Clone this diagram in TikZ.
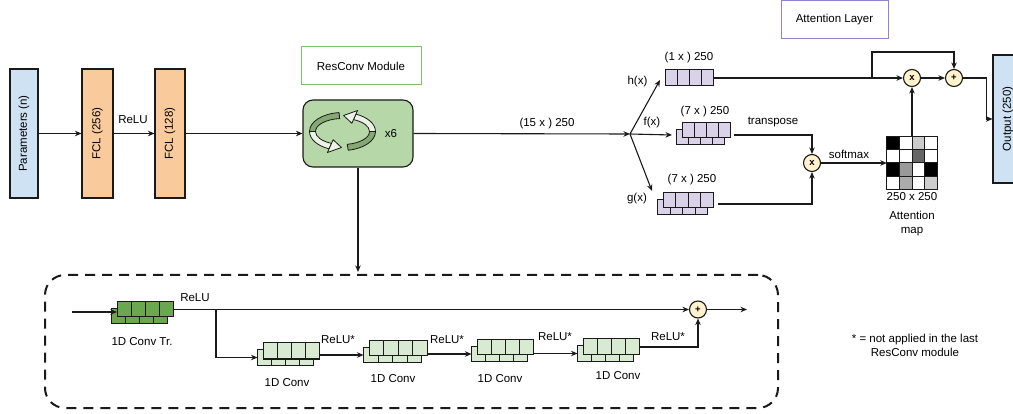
\documentclass[tikz,border=0pt]{standalone}
\usepackage{fontspec}
\setmainfont{Liberation Sans}
\usetikzlibrary{arrows.meta,calc}
\definecolor{linec}{HTML}{1A1A1A}
\definecolor{parfill}{HTML}{CFE2F3}
\definecolor{fclfill}{HTML}{F9CB9C}
\definecolor{resfill}{HTML}{B6D7A8}
\definecolor{resborder}{HTML}{7CC16A}
\definecolor{attborder}{HTML}{9580D0}
\definecolor{hfill}{HTML}{D9D2E9}
\definecolor{trfill}{HTML}{6AA84F}
\definecolor{convfill}{HTML}{D9EAD3}
\definecolor{opfill}{HTML}{FFF2CC}
\definecolor{ribdark}{HTML}{86A874}
\definecolor{riblight}{HTML}{EAF3E4}
\newcommand\fs{\fontsize{11.5}{14}\selectfont}
\tikzset{
  conn/.style={draw=linec, line width=1.1pt},
  arr/.style={conn, -{Stealth[length=6.5pt,width=5.5pt]}},
  tall/.style={draw=linec, line width=1.1pt, inner sep=0pt},
  cellbox/.style={draw=linec, line width=1pt, inner sep=0pt, outer sep=0pt},
  cellline/.style={draw=linec, line width=1pt},
  op/.style={circle, draw=linec, fill=opfill, line width=1.1pt, minimum size=17pt, inner sep=0pt, font=\bfseries\fontsize{9.5}{9.5}\selectfont},
  ribbon/.style={draw=linec, line width=0.8pt, line join=round},
}
\newcommand{\cellblock}[6]{%
  \node[cellbox, fill=#6, minimum width=#4pt, minimum height=#5pt, anchor=north west] (#1) at (#2,#3) {};
  \foreach \k in {1,2,3}{\draw[cellline] ($(#1.north west)!\k/4!(#1.north east)$) -- ($(#1.south west)!\k/4!(#1.south east)$);}
}
\newcommand{\stackblock}[6]{%
  \cellblock{#1b}{#2-5.5}{#3+6.5}{#4}{#5}{#6}
  \cellblock{#1}{#2}{#3}{#4}{#5}{#6}
}
% ribbon pieces, drawn in a local scope centred on the icon (y upwards)
\newcommand{\ribbonbody}[3]{%
  \filldraw[ribbon, fill=#3] (#1:33 and 19) arc[start angle=#1, end angle=#2, x radius=33, y radius=19]
    -- (#2:27 and 13) arc[start angle=#2, end angle=#1, x radius=27, y radius=13] -- cycle;
}
\newcommand{\ribbonhead}[3]{%
  \filldraw[ribbon, fill=#3] (#1:37 and 23) -- (#2:30 and 16) -- (#1:23 and 9) -- cycle;
}
\begin{document}
\begin{tikzpicture}[x=1pt, y=-1pt, every node/.style={font=\fs}]
\useasboundingbox (0,0) rectangle (1013,414);
\clip (0,0) rectangle (1013,414);

% ---------- top-left chain ----------
\node[tall, fill=parfill, minimum width=28pt, minimum height=129pt] (par) at (24,133.5) {};
\node[rotate=90] (part) at (par.center) {Parameters (n)};
\node[tall, fill=fclfill, minimum width=31pt, minimum height=129pt] (fc1) at (97.5,133.5) {};
\node[rotate=90] (fc1t) at (fc1.center) {FCL (256)};
\node[tall, fill=fclfill, minimum width=30pt, minimum height=129pt] (fc2) at (170,133.5) {};
\node[rotate=90] (fc2t) at (fc2.center) {FCL (128)};
\node (relua) at (133,120) {ReLU};

\node[draw=resborder, line width=1pt, minimum width=120pt, minimum height=38pt] (rlbl) at (361,66) {ResConv Module};
\node[draw=linec, fill=resfill, line width=1.1pt, rounded corners=10pt, minimum width=110pt, minimum height=67pt] (res) at (358,133.5) {};
\node (x6) at (391,134) {x6};
\coordinate (ic) at (342.5,131.5);
% rotating arrows icon
\begin{scope}[shift={(ic)}, x=1pt, y=1pt]
  \ribbonbody{96}{180}{ribdark}
  \ribbonbody{180}{246}{riblight}
  \ribbonhead{246}{268}{riblight}
  \ribbonbody{280}{360}{ribdark}
  \ribbonbody{360}{426}{riblight}
  \ribbonhead{426}{448}{riblight}
\end{scope}

\draw[arr] (par.east) -- (fc1.west);
\draw[arr] (fc1.east) -- (fc2.west);
\draw[arr] (fc2.east) -- (res.west);

% ---------- attention part ----------
\coordinate (fork) at (630,134);
\draw[arr] (res.east) -- (fork);
\node (dim) at (547,124) {(15 x ) 250};
\coordinate (ht) at (660,80);
\coordinate (ft) at (672,135);
\coordinate (gt) at (652,191);
\draw[arr] (fork) -- (ht);
\draw[arr] (fork) -- (ft);
\draw[arr] (fork) -- (gt);
\node (hx) at (637.5,82) {h(x)};
\node (fx) at (652,123) {f(x)};
\node (gx) at (637,199) {g(x)};

\cellblock{hb}{665}{70}{48}{16}{hfill}
\stackblock{fb}{682}{123}{48}{15}{hfill}
\stackblock{gb}{663}{193}{50}{15}{hfill}
\node (hdim) at (689,58) {(1 x ) 250};
\node (fdim) at (705,112) {(7 x ) 250};
\node (gdim) at (692,180) {(7 x ) 250};

\node[op] (m1) at (812,163) {x};
\draw[arr] ($(fb.east)+(4,4.5)$) -| (m1.north);
\draw[arr] ($(gb.east)+(5,3.5)$) -| (m1.south);
\node (tr) at (773,122) {transpose};
\node (sm) at (849,154) {softmax};

\node[inner sep=0pt, minimum width=50pt, minimum height=52pt] (amap) at (912,163) {};
\foreach \col/\row/\clr in {0/0/black,1/0/white,2/0/black!20,3/0/white,
                            0/1/white,1/1/white,2/1/black!60,3/1/white,
                            0/2/black,1/2/black!40,2/2/white,3/2/black,
                            0/3/white,1/3/black!33,2/3/white,3/3/black!20}
  {\fill[\clr] ($(amap.north west)+(\col*12.5,\row*13)$) rectangle ++(12.5,13);}
\foreach \k in {1,2,3}{
  \draw[cellline] ($(amap.north west)!\k/4!(amap.north east)$) -- ($(amap.south west)!\k/4!(amap.south east)$);
  \draw[cellline] ($(amap.north west)!\k/4!(amap.south west)$) -- ($(amap.north east)!\k/4!(amap.south east)$);
}
\draw[cellline, line width=1.1pt] (amap.north west) rectangle (amap.south east);
\draw[arr] (m1.east) -- (amap.west);
\node (asz) at (912,197) {250 x 250};
\node[align=center] (alab) at (912,223.5) {Attention\\map};

\node[op] (m2) at (912,78) {x};
\node[op] (p2) at (954,78) {+};
\draw[arr] (amap.north) -- (m2.south);
\draw[arr] (hb.east) -- (m2.west);
\coordinate (hbr) at (872,78);
\draw[arr] (hbr) -- ++(0,-26) -| (p2.north);
\draw[arr] (m2.east) -- (p2.west);

\node[tall, fill=parfill, minimum width=30pt, minimum height=128pt] (out) at (1008,119) {};
\node[rotate=90] (outt) at (out.center) {Output (250)};
\draw[arr] (p2.east) -- ++(23,0) |- (out.west);

\node[draw=attborder, line width=1pt, minimum width=107pt, minimum height=38pt] (alay) at (834.5,20) {Attention Layer};

% ---------- ResConv detail ----------
\node[draw=linec, line width=2pt, dash pattern=on 10pt off 7pt, rounded corners=20pt, minimum width=733pt, minimum height=133pt] (dbox) at (411.5,341.5) {};
\draw[arr, shorten >=2pt] (res.south) -- (res.south |- dbox.north);

\stackblock{ct}{117}{302}{56}{15}{trfill}
\coordinate (inp) at (72,312);
\draw[arr] (inp) -- (inp -| ct.west);
\node (ctl) at (142,342) {1D Conv Tr.};
\node (relu0) at (195,298) {ReLU};

\node[op] (p1) at (698,309.5) {+};
\coordinate (outb) at (747,309.5);
\draw[arr] (ct.east) -- (p1.west);
\draw[arr] (p1.east) -- (outb);

\stackblock{c1}{263}{343}{56}{16}{convfill}
\stackblock{c2}{369}{341}{58}{15}{convfill}
\stackblock{c3}{477}{340}{56}{15}{convfill}
\stackblock{c4}{583}{339}{56}{16}{convfill}

\coordinate (br) at (216,309.5);
\draw[arr] (br) |- (c1b.west);
\draw[arr] (c1.east |- c2b.west) -- (c2b.west);
\draw[arr] (c2.east |- c3b.west) -- (c3b.west);
\draw[arr] (c3.east |- c4b.west) -- (c4b.west);
\draw[arr] (c4.east) -| (p1.south);

\node (r1) at (338,340) {ReLU*};
\node (r2) at (447,340) {ReLU*};
\node (r3) at (555,337) {ReLU*};
\node (r4) at (668,337) {ReLU*};
\node (l1) at (287,383) {1D Conv};
\node (l2) at (393,379) {1D Conv};
\node (l3) at (500,379) {1D Conv};
\node (l4) at (618,376) {1D Conv};

\node[align=center] (note) at (915,345) {* = not applied in the last\\ResConv module};
\end{tikzpicture}
\end{document}
